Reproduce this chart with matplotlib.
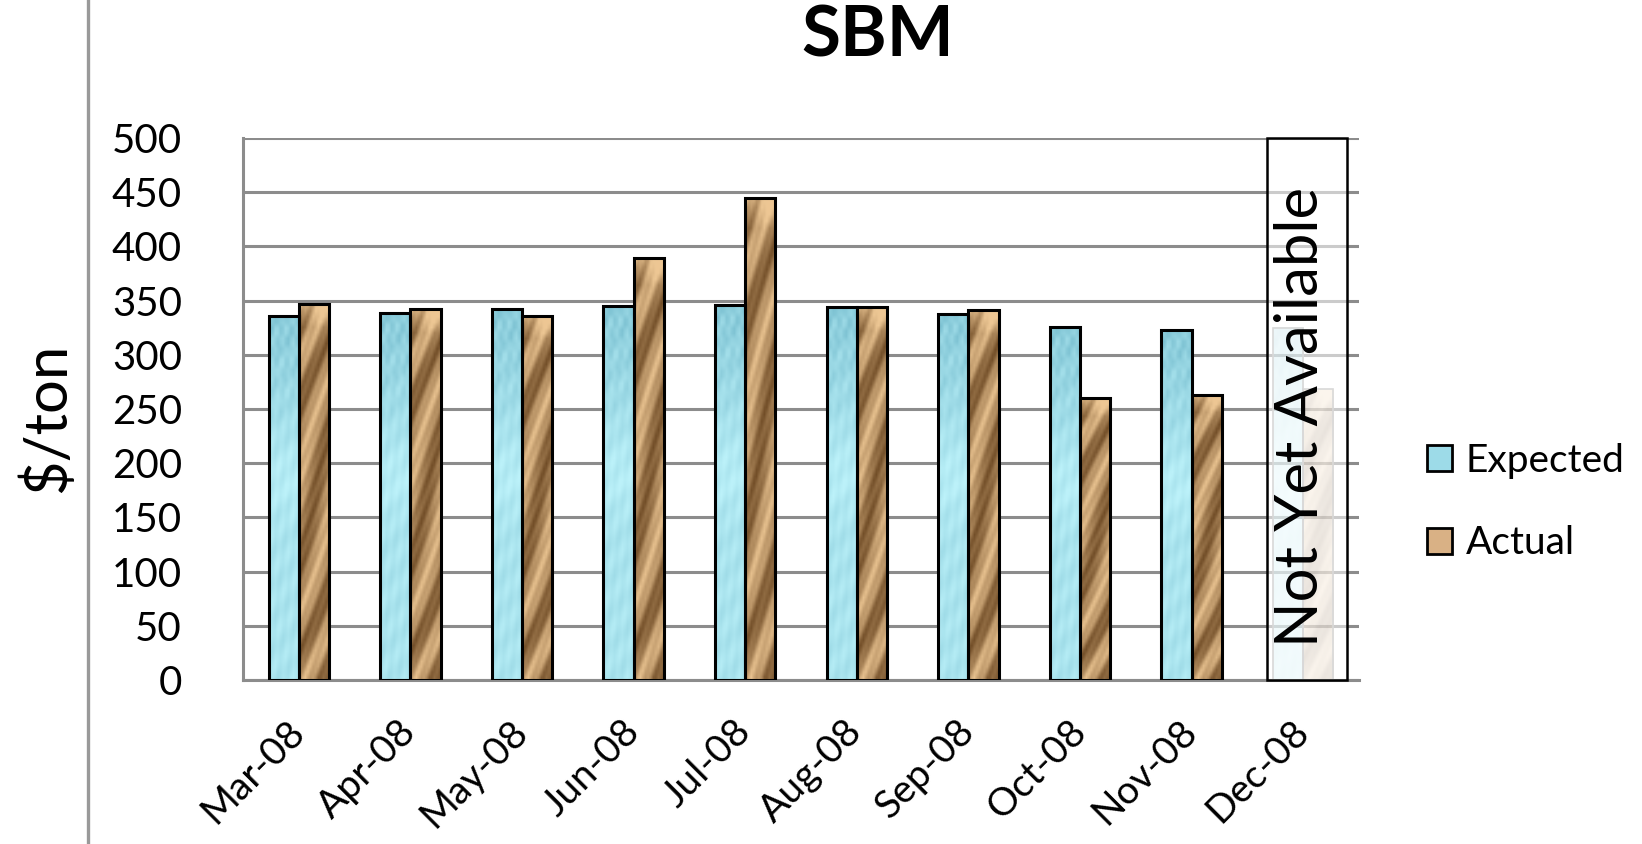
import numpy as np
import matplotlib.pyplot as plt
from matplotlib.patches import Patch, Rectangle
from matplotlib.lines import Line2D

plt.rcParams['font.family'] = ['Lato', 'DejaVu Sans']

months = ['Mar-08', 'Apr-08', 'May-08', 'Jun-08', 'Jul-08',
          'Aug-08', 'Sep-08', 'Oct-08', 'Nov-08', 'Dec-08']
expected = [336, 339, 342, 345, 346, 344, 338, 326, 323, 325]
actual = [347, 342, 336, 389, 445, 344, 341, 260, 263, 268]
pending = 'Dec-08'   # month not reported yet, shown greyed out

GRID = '#8c8c8c'


def water_tex(h=70, w=12):
    """Light cyan picture fill, a bit darker and checkered near the top."""
    yy, xx = np.mgrid[0:h, 0:w].astype(float)
    top = np.clip(1 - yy / (0.35 * h), 0, 1)
    chk = ((xx // 2 + yy // 2) % 2) * top
    p = 0.25 + 0.15 * np.sin(xx * 1.1 + yy * 0.7) * np.cos(yy * 0.3 - xx * 0.6)
    p = p + 0.35 * top + 0.2 * chk - 0.15 * np.exp(-((yy - 0.45 * h) / 6.0) ** 2)
    p = np.clip(p, 0, 1)[..., None]
    light = np.array([0.74, 0.95, 0.98])
    dark = np.array([0.45, 0.73, 0.80])
    return light + (dark - light) * p


def wood_tex(h=70, w=12):
    """Tan picture fill with dark brown diagonal streaks."""
    yy, xx = np.mgrid[0:h, 0:w].astype(float)
    band = np.sin(yy * 0.33 + xx * 0.45 + 1.8 * np.sin(yy * 0.09))
    p = 0.45 + 0.3 * band + 0.12 * np.sin(xx * 1.7 + yy * 1.3)
    top = np.clip(1 - yy / 4.0, 0, 1)
    p = np.clip(p - 0.45 * top, 0, 1)[..., None]
    light = np.array([0.93, 0.78, 0.58])
    dark = np.array([0.36, 0.22, 0.08])
    return light + (dark - light) * p


fig = plt.figure(figsize=(16.42, 8.44), dpi=100)
ax = fig.add_axes([243 / 1642, 1 - 680 / 844, 1116 / 1642, 542 / 844])

# grey separator line down the left side of the slide
fig.add_artist(Line2D([88 / 1642, 88 / 1642], [0, 1], color='#999999', lw=2.4,
                      transform=fig.transFigure))

x = np.arange(len(months))
bw = 0.27
b_exp = ax.bar(x - bw / 2, expected, bw, facecolor='none', edgecolor='black',
               lw=2.2, zorder=3)
b_act = ax.bar(x + bw / 2, actual, bw, facecolor='none', edgecolor='black',
               lw=2.2, zorder=3)

tex_e = water_tex()
tex_a = wood_tex()
for m, re, ra in zip(months, b_exp, b_act):
    faded = (m == pending)
    for r, tex in ((re, tex_e), (ra, tex_a)):
        x0, w, h = r.get_x(), r.get_width(), r.get_height()
        ax.imshow(tex, extent=(x0, x0 + w, 0, h), aspect='auto', zorder=2,
                  interpolation='bilinear', alpha=0.35 if faded else 1.0)
        if faded:
            r.set_edgecolor('#aaaaaa')
            r.set_linewidth(1.2)

# box over the month that has no data yet
i = months.index(pending)
ax.add_patch(Rectangle((i - 0.324, 0), 0.717, 500, facecolor=(1, 1, 1, 0.55),
                       edgecolor='black', lw=1.8, zorder=4, clip_on=False))
ax.text(i - 0.02, 243, 'Not Yet Available', rotation=90, ha='center',
        va='center', fontsize=43, zorder=5)

ax.set_xlim(-0.5, 9.5)
ax.set_ylim(0, 500)
ax.set_yticks(np.arange(0, 501, 50))
ax.set_xticks(x)
ax.set_xticklabels(months, rotation=45, ha='right', va='center',
                   rotation_mode='anchor', fontsize=28)
ax.tick_params(axis='x', length=0, pad=33)
ax.tick_params(axis='y', length=0, pad=44, labelsize=29)
ax.yaxis.grid(True, color=GRID, lw=2.2)
ax.set_axisbelow(True)
for s in ('top', 'right'):
    ax.spines[s].set_visible(False)
for s in ('left', 'bottom'):
    ax.spines[s].set_color(GRID)
    ax.spines[s].set_linewidth(2.2)

fig.text(878 / 1642, 1 - 36 / 844, 'SBM', ha='center', va='center',
         fontsize=51, fontweight='bold')
fig.text(47 / 1642, 1 - 418 / 844, '$/ton', rotation=90, ha='center',
         va='center', fontsize=43)

handles = [Patch(facecolor='#9ddbe8', edgecolor='black', lw=2.0, label='Expected'),
           Patch(facecolor='#d9b185', edgecolor='black', lw=2.0, label='Actual')]
fig.legend(handles=handles, loc='center left', frameon=False, fontsize=28,
           bbox_to_anchor=(1392 / 1642, 1 - 502 / 844), handlelength=0.65,
           handleheight=0.65, handletextpad=0.35, labelspacing=1.2)

fig.savefig('out.png', dpi=100)
